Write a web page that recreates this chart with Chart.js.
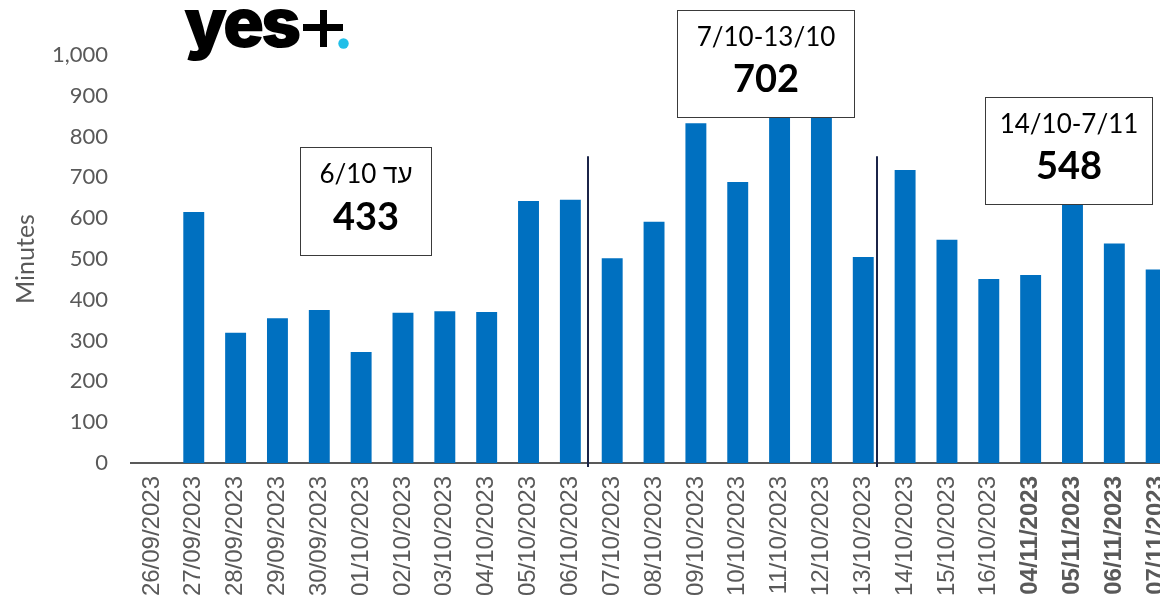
<!DOCTYPE html>
<html><head><meta charset="utf-8">
<script src="https://cdn.jsdelivr.net/npm/chart.js@4"></script>
<style>
html,body{margin:0;padding:0;overflow:hidden;background:#fff;width:1160px;height:602px}
#wrap{position:relative;width:1160px;height:602px;overflow:hidden}
canvas{display:block}
</style></head>
<body><div id="wrap"><canvas id="c" width="1198" height="602"></canvas></div>
<script>
// ---- data ----
const categories = ['26/09/2023','27/09/2023','28/09/2023','29/09/2023','30/09/2023','01/10/2023','02/10/2023','03/10/2023','04/10/2023','05/10/2023','06/10/2023','07/10/2023','08/10/2023','09/10/2023','10/10/2023','11/10/2023','12/10/2023','13/10/2023','14/10/2023','15/10/2023','16/10/2023','04/11/2023','05/11/2023','06/11/2023','07/11/2023'];
const minutes = [0,615,319,355,375,272,368,372,370,642,645,502,591,833,689,905,891,505,718,547,451,461,647,538,474];
const boldFromIndex = 21;
const periodLabels = ['עד 6/10','7/10-13/10','14/10-7/11'];
const periodAverages = [433,702,548];
const yTicksMax = 1000;
const yTicksStep = 100;
const axisTitle = 'Minutes';

// ---- annotation placement (data units) ----
const boxPlacement = [
  {x0:3.53, x1:6.68, yTop:775, yBot:510},
  {x0:12.55, x1:16.78, yTop:1110, yBot:848},
  {x0:19.9, x1:23.9, yTop:897, yBot:635}
];
const dividerPositions = [10.41, 17.33];
const dividerTop = 752;

const GRAY = '#595959';
const FAM = "Lato, 'Liberation Sans', 'DejaVu Sans', sans-serif";

const annotations = {
  id:'annotations',
  afterDatasetsDraw(chart){
    const {ctx, scales:{x,y}} = chart;
    ctx.save();
    ctx.strokeStyle = '#1b2448';
    ctx.lineWidth = 2;
    dividerPositions.forEach(v=>{
      const px = Math.round(x.getPixelForValue(v));
      ctx.beginPath();
      ctx.moveTo(px, y.getPixelForValue(dividerTop));
      ctx.lineTo(px, y.getPixelForValue(0)+4);
      ctx.stroke();
    });
    boxPlacement.forEach((b,i)=>{
      const l = Math.round(x.getPixelForValue(b.x0))+0.5;
      const r = Math.round(x.getPixelForValue(b.x1))+0.5;
      const t = Math.round(y.getPixelForValue(b.yTop))+0.5;
      const bt = Math.round(y.getPixelForValue(b.yBot))+0.5;
      ctx.fillStyle = '#fff';
      ctx.fillRect(l,t,r-l,bt-t);
      ctx.strokeStyle = '#3a3a3a';
      ctx.lineWidth = 1;
      ctx.strokeRect(l,t,r-l,bt-t);
      const cx = (l+r)/2, h = bt-t;
      ctx.fillStyle = '#000';
      ctx.textAlign = 'center';
      ctx.textBaseline = 'middle';
      ctx.direction = /[\u0590-\u05FF]/.test(periodLabels[i]) ? 'rtl' : 'ltr';
      ctx.font = "26px " + FAM;
      ctx.fillText(periodLabels[i], cx, t + h*0.25);
      ctx.direction = 'ltr';
      ctx.font = "bold 38px " + FAM;
      ctx.fillText(String(periodAverages[i]), cx, t + h*0.65);
    });
    ctx.restore();
  },
  afterDraw(chart){
    const {ctx} = chart;
    ctx.save();
    ctx.fillStyle = '#000';
    ctx.font = "900 68px Inter, sans-serif";
    ctx.letterSpacing = '-3px';
    ctx.textBaseline = 'alphabetic';
    ctx.textAlign = 'left';
    ctx.fillText('yes', 184, 47);
    ctx.letterSpacing = '0px';
    ctx.fillRect(303, 24, 40, 7);
    ctx.fillRect(320, 10, 7, 37);
    ctx.fillStyle = '#22bfe8';
    ctx.beginPath();
    ctx.arc(343.5, 43.5, 5.2, 0, Math.PI*2);
    ctx.fill();
    ctx.restore();
  }
};

new Chart(document.getElementById('c'), {
  type:'bar',
  data:{
    labels:categories,
    datasets:[{data:minutes, backgroundColor:'#0070C0', borderWidth:0, barPercentage:0.5, categoryPercentage:1}]
  },
  options:{
    responsive:false,
    animation:false,
    layout:{padding:{top:55, right:1.5, left:0, bottom:0}},
    plugins:{legend:{display:false}, tooltip:{enabled:false}},
    scales:{
      x:{
        grid:{display:false, drawTicks:false},
        border:{display:true, color:'#595959', width:2},
        ticks:{
          autoSkip:false, minRotation:90, maxRotation:90, padding:13, color:GRAY,
          font:(c)=>({family:"'Liberation Sans', Arial, sans-serif", size:24, weight: c.index>=boldFromIndex ? 'bold':'normal'})
        },
        afterFit(s){ s.height = 139; }
      },
      y:{
        min:0, max:yTicksMax,
        grid:{display:false, drawTicks:false},
        border:{display:false},
        ticks:{stepSize:yTicksStep, padding:23, color:GRAY, font:{family:FAM, size:22}},
        title:{display:true, text:axisTitle, color:GRAY, font:{family:FAM, size:25}, padding:{top:11,bottom:0}},
        afterFit(s){ s.width = 131; }
      }
    }
  },
  plugins:[annotations]
});
</script>
</body></html>
